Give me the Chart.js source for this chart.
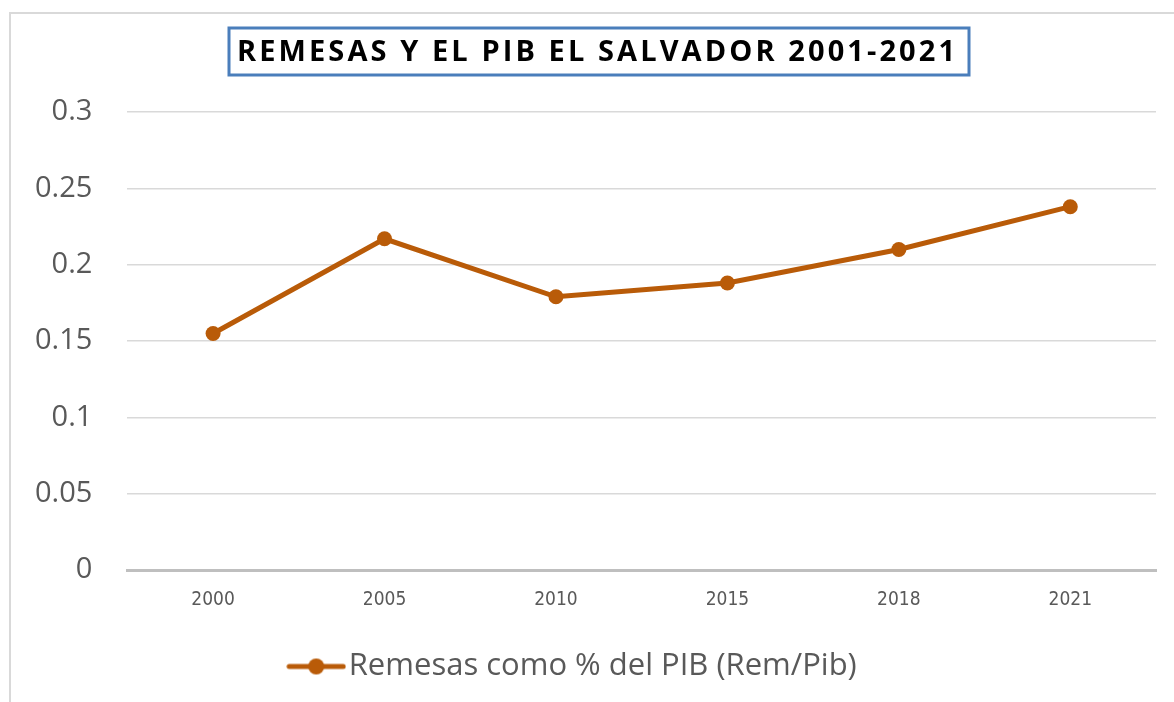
<!DOCTYPE html>
<html>
<head>
<meta charset="utf-8">
<script src="https://cdn.jsdelivr.net/npm/chart.js@4"></script>
<style>
  html, body { margin: 0; padding: 0; background: #fff; }
  #chartResult { display: block; }
</style>
</head>
<body>
<canvas id="chartResult" width="1174" height="702"></canvas>
<script>
// datos
var anios = ['2000', '2005', '2010', '2015', '2018', '2021'];
var remesasPib = [0.155, 0.217, 0.179, 0.188, 0.210, 0.238];
var tituloTexto = 'REMESAS Y EL PIB EL SALVADOR 2001-2021';
var serieNombre = 'Remesas como % del PIB (Rem/Pib)';

var naranja = '#b95b08';
var grisTexto = '#595959';

// icono de la leyenda: linea con punto
var icono = document.createElement('canvas');
icono.width = 60;
icono.height = 20;
var ic = icono.getContext('2d');
ic.strokeStyle = naranja;
ic.lineWidth = 5;
ic.lineCap = 'round';
ic.beginPath();
ic.moveTo(3, 10);
ic.lineTo(57, 10);
ic.stroke();
ic.fillStyle = naranja;
ic.beginPath();
ic.arc(30, 10, 8, 0, Math.PI * 2);
ic.fill();

// marco exterior y caja del titulo
var marcoTitulo = {
    id: 'marcoTitulo',
    beforeDraw: function (chart) {
        var ctx = chart.ctx;
        ctx.save();
        ctx.strokeStyle = '#d9d9d9';
        ctx.lineWidth = 2;
        ctx.beginPath();
        ctx.moveTo(10, 702);
        ctx.lineTo(10, 13);
        ctx.lineTo(1174, 13);
        ctx.stroke();
        ctx.restore();
    },
    afterDraw: function (chart) {
        var ctx = chart.ctx;
        ctx.save();
        ctx.fillStyle = '#fff';
        ctx.fillRect(229, 28, 740, 47);
        ctx.strokeStyle = '#4a7ebb';
        ctx.lineWidth = 3;
        ctx.strokeRect(229, 28, 740, 47);

        ctx.font = 'bold 29px "Open Sans", sans-serif';
        ctx.fillStyle = '#000';
        ctx.textBaseline = 'middle';
        ctx.textAlign = 'left';
        var ancho = ctx.measureText(tituloTexto).width;
        var espacio = (718 - ancho) / (tituloTexto.length - 1);
        if (espacio < 0) espacio = 0;
        ctx.letterSpacing = espacio + 'px';
        ctx.fillText(tituloTexto, 237, 53);
        ctx.restore();
    }
};

var canvasShow = document.getElementById('chartResult');

var mainChart = new Chart(canvasShow, {
    type: 'line',
    data: {
        labels: anios,
        datasets: [{
            label: serieNombre,
            data: remesasPib,
            borderColor: naranja,
            backgroundColor: naranja,
            borderWidth: 5,
            pointRadius: 7.5,
            pointHoverRadius: 7.5,
            pointBackgroundColor: naranja,
            pointBorderWidth: 0,
            pointStyle: 'circle',
            tension: 0
        }]
    },
    plugins: [marcoTitulo],
    options: {
        responsive: false,
        animation: false,
        layout: {
            padding: { top: 112, left: 0, right: 18, bottom: 10 }
        },
        plugins: {
            title: { display: false },
            tooltip: { enabled: false },
            legend: {
                position: 'bottom',
                labels: {
                    usePointStyle: true,
                    pointStyle: icono,
                    pointStyleWidth: 34,
                    color: grisTexto,
                    padding: 22,
                    font: { family: '"Open Sans", sans-serif', size: 31 },
                    generateLabels: function (chart) {
                        return chart.data.datasets.map(function (ds, i) {
                            return {
                                text: ds.label,
                                pointStyle: icono,
                                fillStyle: naranja,
                                strokeStyle: naranja,
                                lineWidth: 0,
                                fontColor: grisTexto,
                                datasetIndex: i
                            };
                        });
                    }
                }
            }
        },
        scales: {
            x: {
                offset: true,
                grid: { display: false, drawTicks: false },
                border: { display: true, color: '#bfbfbf', width: 3 },
                ticks: {
                    color: grisTexto,
                    padding: 18,
                    font: { family: '"Liberation Sans Narrow", "DejaVu Sans Condensed", "Open Sans", sans-serif', size: 19 }
                }
            },
            y: {
                min: 0,
                max: 0.3,
                grid: { color: '#d9d9d9', lineWidth: 1.5, drawTicks: false },
                border: { display: false },
                ticks: {
                    stepSize: 0.05,
                    color: grisTexto,
                    padding: 35,
                    font: { family: '"Open Sans", sans-serif', size: 29 },
                    callback: function (v) { return String(+v.toFixed(2)); }
                }
            }
        }
    }
});
</script>
</body>
</html>
